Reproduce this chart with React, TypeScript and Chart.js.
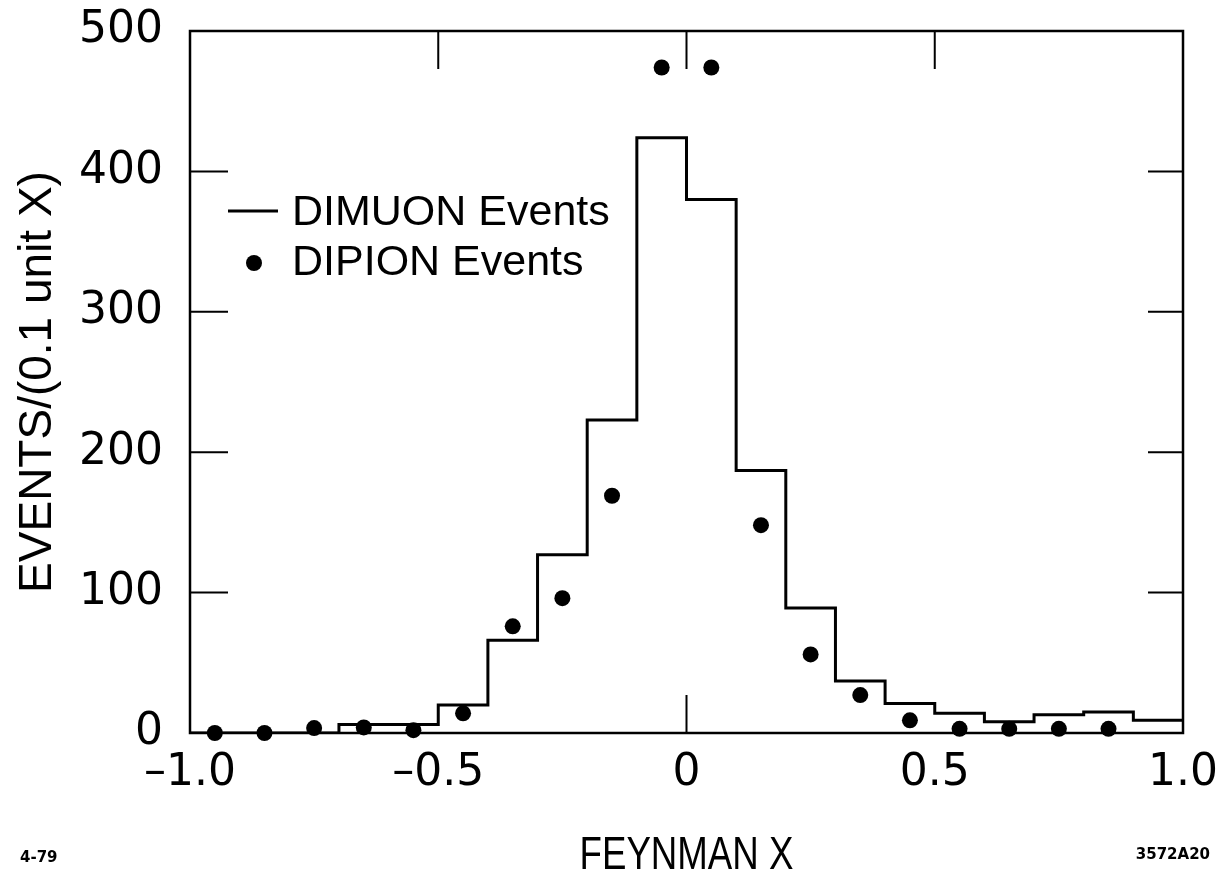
import React, { useEffect, useRef } from "react";
import { Chart, registerables } from "chart.js";

Chart.register(...registerables);

// Histogram (DIMUON events): bin edges and counts per 0.1 bin
const histEdges = [-1.0, -0.9, -0.8, -0.7, -0.6, -0.5, -0.4, -0.3, -0.2, -0.1, 0.0, 0.1, 0.2, 0.3, 0.4, 0.5, 0.6, 0.7, 0.8, 0.9, 1.0];
const dimuonCounts = [0, 0, 0, 6, 6, 20, 66, 127, 223, 424, 380, 187, 89, 37, 21, 14, 8, 13, 15, 9];

// DIPION events: points at bin centres
const binCenters = [-0.95, -0.85, -0.75, -0.65, -0.55, -0.45, -0.35, -0.25, -0.15, -0.05, 0.05, 0.15, 0.25, 0.35, 0.45, 0.55, 0.65, 0.75, 0.85];
const dipionCounts = [0, 0, 3.5, 4, 2, 14, 76, 96, 169, 474, 474, 148, 56, 27, 9, 3, 3, 3, 3];

// Axis ticks
const xTickValues = [-1.0, -0.5, 0, 0.5, 1.0];
const xTickLabels = ["\u20131.0", "\u20130.5", "0", "0.5", "1.0"];
const yTickValues = [0, 100, 200, 300, 400, 500];
const yTickLabels = ["0", "100", "200", "300", "400", "500"];

// inner tick marks
const topTickValues = [-0.5, 0, 0.5];
const bottomTickValues = [0];
const sideTickValues = [100, 200, 300, 400];

const xTitle = "FEYNMAN X";
const yTitle = "EVENTS/(0.1 unit X)";
const legendLabels = ["DIMUON Events", "DIPION Events"];
const footLeft = "4-79";
const footRight = "3572A20";

const framePlugin = {
  id: "framePlugin",
  afterDatasetsDraw(chart: any) {
    const { ctx, chartArea, scales } = chart;
    const { left, right, top, bottom } = chartArea;
    const xs = scales.x;
    const ys = scales.y;
    ctx.save();
    ctx.strokeStyle = "#000";
    ctx.lineWidth = 2.5;
    ctx.strokeRect(left, top, right - left, bottom - top);
    ctx.lineWidth = 2;
    const tl = 38;
    ctx.beginPath();
    topTickValues.forEach((v) => {
      const px = xs.getPixelForValue(v);
      ctx.moveTo(px, top);
      ctx.lineTo(px, top + tl);
    });
    bottomTickValues.forEach((v) => {
      const px = xs.getPixelForValue(v);
      ctx.moveTo(px, bottom);
      ctx.lineTo(px, bottom - tl);
    });
    sideTickValues.forEach((v) => {
      const py = ys.getPixelForValue(v);
      ctx.moveTo(left, py);
      ctx.lineTo(left + tl, py);
      ctx.moveTo(right, py);
      ctx.lineTo(right - 35, py);
    });
    ctx.stroke();

    // legend
    ctx.lineWidth = 3;
    ctx.beginPath();
    ctx.moveTo(228, 211);
    ctx.lineTo(278, 211);
    ctx.stroke();
    ctx.fillStyle = "#000";
    ctx.beginPath();
    ctx.arc(254, 263, 8, 0, Math.PI * 2);
    ctx.fill();
    ctx.font = "43px 'Liberation Sans', Arial, sans-serif";
    ctx.textBaseline = "middle";
    ctx.textAlign = "left";
    ctx.fillText(legendLabels[0], 292, 213);
    ctx.fillText(legendLabels[1], 292, 263);

    // x-axis title (condensed lettering)
    ctx.save();
    ctx.translate((left + right) / 2, 856);
    ctx.scale(0.78, 1);
    ctx.textAlign = "center";
    ctx.font = "47px 'Liberation Sans', Arial, sans-serif";
    ctx.fillText(xTitle, 0, 0);
    ctx.restore();

    // footer annotations
    ctx.font = "bold 15px 'DejaVu Sans', sans-serif";
    ctx.textAlign = "left";
    ctx.fillText(footLeft, 20, 858);
    ctx.textAlign = "right";
    ctx.fillText(footRight, 1210, 855);
    ctx.restore();
  },
};

export default function App() {
  const canvasRef = useRef<HTMLCanvasElement | null>(null);

  useEffect(() => {
    document.body.style.margin = "0";
    const canvas = canvasRef.current;
    if (!canvas) return;
    const histData = histEdges.map((x, i) => ({ x, y: dimuonCounts[Math.min(i, dimuonCounts.length - 1)] }));
    const dotData = binCenters.map((x, i) => ({ x, y: dipionCounts[i] }));
    const tickFont = { family: "'DejaVu Sans', sans-serif", size: 44 };
    const yTitleFont = { family: "'Liberation Sans', Arial, sans-serif", size: 46, lineHeight: 1 };

    const chart = new Chart(canvas, {
      type: "scatter",
      data: {
        datasets: [
          {
            label: legendLabels[0],
            data: histData,
            showLine: true,
            stepped: "before",
            borderColor: "#000",
            borderWidth: 3,
            pointRadius: 0,
            fill: false,
          },
          {
            label: legendLabels[1],
            data: dotData,
            showLine: false,
            pointRadius: 8,
            pointBackgroundColor: "#000",
            pointBorderColor: "#000",
            pointBorderWidth: 0,
            clip: false,
          },
        ],
      } as any,
      options: {
        animation: false,
        responsive: false,
        devicePixelRatio: 1,
        layout: { padding: { top: 31, right: 39, left: 0, bottom: 0 } },
        plugins: { legend: { display: false }, tooltip: { enabled: false } },
        scales: {
          x: {
            type: "linear",
            min: -1,
            max: 1,
            grid: { display: false, drawTicks: false },
            border: { display: false },
            afterBuildTicks: (s: any) => {
              s.ticks = xTickValues.map((v) => ({ value: v }));
            },
            ticks: {
              padding: 14,
              font: tickFont,
              color: "#000",
              maxRotation: 0,
              autoSkip: false,
              callback: (_v: any, i: number) => xTickLabels[i],
            },
            title: { display: false },
            afterFit: (s: any) => {
              s.height = 144;
              s.paddingLeft = 0;
              s.paddingRight = 0;
            },
          },
          y: {
            type: "linear",
            min: 0,
            max: 500,
            grid: { display: false, drawTicks: false },
            border: { display: false },
            afterBuildTicks: (s: any) => {
              s.ticks = yTickValues.map((v) => ({ value: v }));
            },
            ticks: {
              padding: 27,
              font: tickFont,
              color: "#000",
              autoSkip: false,
              callback: (_v: any, i: number) => yTickLabels[i],
            },
            title: {
              display: true,
              text: yTitle,
              font: yTitleFont,
              color: "#000",
              padding: { top: 15, bottom: 0 },
            },
            afterFit: (s: any) => {
              s.width = 190;
              s.paddingTop = 0;
              s.paddingBottom = 0;
            },
          },
        },
      } as any,
      plugins: [framePlugin],
    });
    return () => chart.destroy();
  }, []);

  return (
    <div style={{ width: 1222, height: 877, background: "#fff" }}>
      <canvas ref={canvasRef} width={1222} height={877} />
    </div>
  );
}
